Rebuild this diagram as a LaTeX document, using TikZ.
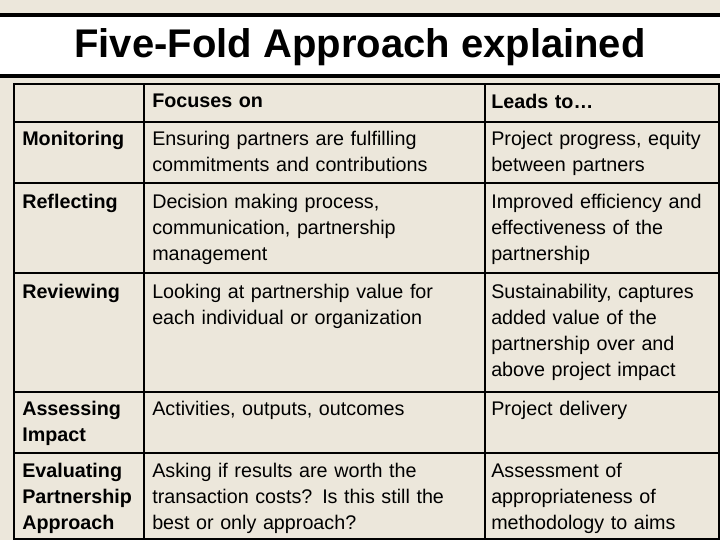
\documentclass[tikz,border=0pt]{standalone}
\usepackage{fontspec}
\setmainfont{Liberation Sans}
\begin{document}
\begin{tikzpicture}[x=0.75pt,y=-0.75pt,
  cell/.style={anchor=north west,inner sep=0pt,align=left,font=\fontsize{14.8}{19.5}\selectfont,text width=#1},
  hcell/.style={cell=#1,font=\fontsize{14.8}{19.5}\selectfont\bfseries},
  grid/.style={draw=black,line width=1pt}]
\fill[fill={rgb,255:red,236;green,231;blue,219}] (0,0) rectangle (720,540);
\useasboundingbox (0,0) rectangle (720,540);
\draw[fill=white,line width=3pt] (-5,15) rectangle (725,76);
\node[inner sep=0pt,font=\fontsize{30}{36}\selectfont\bfseries] (title) at (360,47) {Five-Fold Approach explained};
% grid
\draw[grid] (14,84) rectangle (719,539);
\foreach \y in {122,183,273,392,453} \draw[grid] (14,\y) -- (719,\y);
\draw[grid] (144,84) -- (144,539);
\draw[grid] (485,84) -- (485,539);
% header
\node[hcell=320pt] (h1) at (152,94) {Focuses on};
\node[hcell=170pt] (h2) at (491,94) {Leads to…};
% rows
\node[hcell=100pt] (r1) at (22,131) {Monitoring};
\node[cell=255pt] (f1) at (152,131) {Ensuring partners are fulfilling\\commitments and contributions};
\node[cell=175pt] (l1) at (491,131) {Project progress, equity\\between partners};
\node[hcell=100pt] (r2) at (22,194) {Reflecting};
\node[cell=255pt] (f2) at (152,194) {Decision making process,\\communication, partnership\\management};
\node[cell=175pt] (l2) at (491,194) {Improved efficiency and\\effectiveness of the\\partnership};
\node[hcell=100pt] (r3) at (22,284) {Reviewing};
\node[cell=255pt] (f3) at (152,284) {Looking at partnership value for\\each individual or organization};
\node[cell=175pt] (l3) at (491,284) {Sustainability, captures\\added value of the\\partnership over and\\above project impact};
\node[hcell=100pt] (r4) at (22,401) {Assessing\\Impact};
\node[cell=255pt] (f4) at (152,401) {Activities, outputs, outcomes};
\node[cell=175pt] (l4) at (491,401) {Project delivery};
\node[hcell=110pt] (r5) at (22,463) {Evaluating\\Partnership\\Approach};
\node[cell=255pt] (f5) at (152,463) {Asking if results are worth the\\transaction costs? Is this still the\\best or only approach?};
\node[cell=175pt] (l5) at (491,463) {Assessment of\\appropriateness of\\methodology to aims};
\end{tikzpicture}
\end{document}
